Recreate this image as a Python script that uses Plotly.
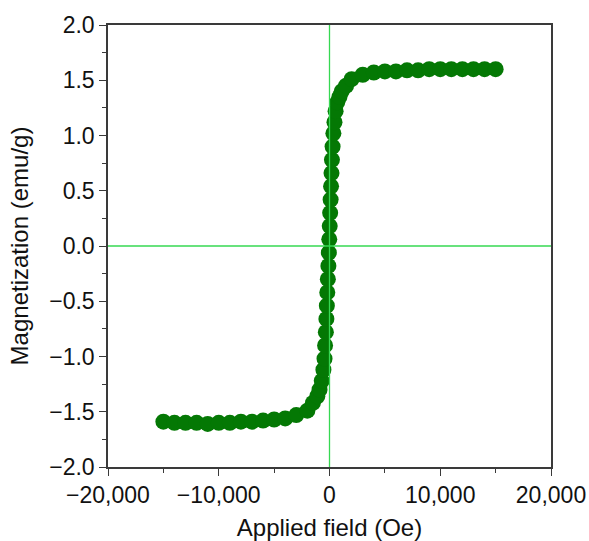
import plotly.graph_objects as go

# Applied field (Oe) and magnetization (emu/g)
field_neg = [-15000, -14000, -13000, -12000, -11000, -10000, -9000, -8000,
             -7000, -6000, -5000, -4000, -3000, -2000]
mag_neg = [-1.59, -1.60, -1.60, -1.60, -1.61, -1.60, -1.60, -1.59,
           -1.59, -1.58, -1.57, -1.56, -1.53, -1.49]

field_mid = [-1500, -1100, -900, -700, -550, -450, -400, -330, -280, -240,
             -200, -150, -100, -60, -20, 20, 60, 100, 140, 180,
             220, 280, 350, 450, 550, 700, 900, 1100, 1500]
mag_mid = [-1.42, -1.36, -1.30, -1.22, -1.12, -1.02, -0.90, -0.78, -0.66, -0.54,
           -0.42, -0.30, -0.18, -0.06, 0.06, 0.18, 0.30, 0.42, 0.54, 0.66,
           0.78, 0.90, 1.02, 1.12, 1.22, 1.30, 1.35, 1.40, 1.45]

field_pos = [2000, 3000, 4000, 5000, 6000, 7000, 8000, 9000,
             10000, 11000, 12000, 13000, 14000, 15000]
mag_pos = [1.51, 1.55, 1.57, 1.58, 1.58, 1.59, 1.59, 1.60,
           1.60, 1.60, 1.60, 1.60, 1.60, 1.60]

x_ticks = [-20000, -10000, 0, 10000, 20000]
y_ticks = [-2.0, -1.5, -1.0, -0.5, 0.0, 0.5, 1.0, 1.5, 2.0]

field = field_neg + field_mid + field_pos
mag = mag_neg + mag_mid + mag_pos

MARKER = "#047804"
ZERO = "#36d852"
AXIS = "#3a3a3a"
FONT = "Liberation Sans, Arial, sans-serif"

fig = go.Figure()
fig.add_trace(go.Scatter(
    x=field, y=mag, mode="markers",
    marker=dict(size=16, color=MARKER, line=dict(width=0)),
    showlegend=False, hoverinfo="x+y",
))

axis_common = dict(
    showgrid=False, zeroline=False, automargin=False,
    showline=True, linecolor=AXIS, linewidth=1.5, mirror=True,
    ticks="outside", ticklen=7, tickwidth=1.3, tickcolor=AXIS,
    tickfont=dict(family=FONT, size=23, color="#111"),
    title_font=dict(family=FONT, size=24, color="#111"),
)

fig.update_xaxes(
    range=[-20000, 20000], tickvals=x_ticks, tickformat=",d",
    title_text="Applied field (Oe)", title_standoff=13,
    minor=dict(ticks="outside", ticklen=4, tickwidth=1.3, tickcolor=AXIS, dtick=5000, tick0=0, showgrid=False),
    **axis_common,
)
fig.update_yaxes(
    range=[-2.0, 2.0], tickvals=y_ticks, tickformat=".1f",
    title_text="Magnetization (emu/g)", title_standoff=14,
    minor=dict(ticks="outside", ticklen=4, tickwidth=1.3, tickcolor=AXIS, dtick=0.25, tick0=0, showgrid=False),
    **axis_common,
)

fig.add_shape(type="line", xref="x", yref="paper", x0=0, x1=0, y0=0, y1=1,
              line=dict(color=ZERO, width=1.3), layer="above")
fig.add_shape(type="line", xref="paper", yref="y", x0=0, x1=1, y0=0, y1=0,
              line=dict(color=ZERO, width=1.3), layer="above")

fig.update_layout(
    width=589, height=541,
    margin=dict(l=108, r=38, t=25, b=74),
    paper_bgcolor="white", plot_bgcolor="white",
    font=dict(family=FONT, size=23, color="#111"),
)

fig.write_html("out.html")
